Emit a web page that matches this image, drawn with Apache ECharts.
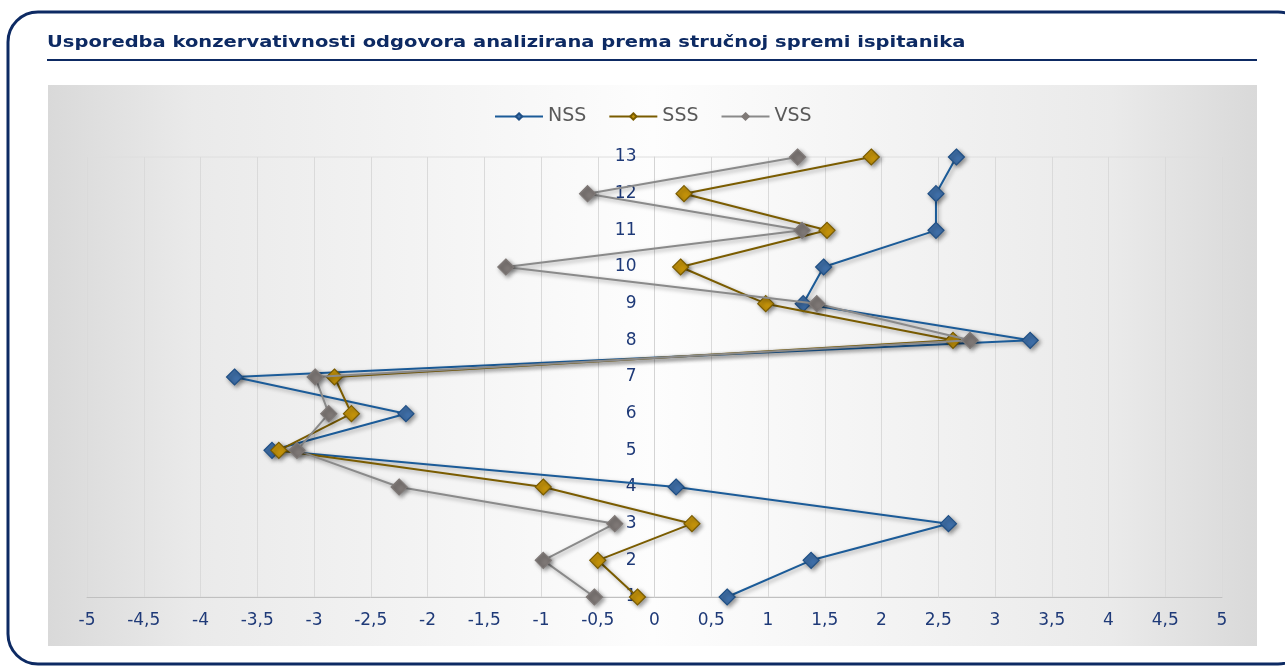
<!DOCTYPE html>
<html>
<head>
<meta charset="utf-8">
<script src="https://cdn.jsdelivr.net/npm/echarts@6/dist/echarts.min.js"></script>
<style>
html,body{margin:0;padding:0;background:#fff;}
#chart{width:1285px;height:666px;}
</style>
</head>
<body>
<div id="chart"></div>
<script>
var titleText = 'Usporedba konzervativnosti odgovora analizirana prema stručnoj spremi ispitanika';
var seriesNames = ['NSS', 'SSS', 'VSS'];
var levels = [1, 2, 3, 4, 5, 6, 7, 8, 9, 10, 11, 12, 13];
var nss = [0.64, 1.38, 2.59, 0.19, -3.37, -2.19, -3.70, 3.31, 1.31, 1.49, 2.48, 2.48, 2.66];
var sss = [-0.15, -0.50, 0.33, -0.98, -3.31, -2.67, -2.82, 2.63, 0.98, 0.23, 1.52, 0.26, 1.91];
var vss = [-0.53, -0.98, -0.35, -2.25, -3.15, -2.87, -2.99, 2.78, 1.43, -1.31, 1.30, -0.59, 1.26];

var lineColors = ['#1b5b98', '#7a5c00', '#8a8a8a'];
var markerFill = ['#3f6fa8', '#c4930a', '#7f7977'];
var markerBorder = ['#1f4f85', '#7a5c00', '#7f7977'];

function pairs(vals) {
  return vals.map(function (v, i) { return [v, levels[i]]; });
}
var allVals = [nss, sss, vss];

var W = 1285, gridLeft = 87, gridRight = 63;
var chart = echarts.init(document.getElementById('chart'), null, {renderer: 'canvas'});
var navy = '#1f3a78';
var fontFam = '"DejaVu Sans", Verdana, sans-serif';

var series = seriesNames.map(function (name, k) {
  return {
    name: name,
    type: 'line',
    data: pairs(allVals[k]),
    symbol: 'diamond',
    symbolSize: 16,
    showSymbol: true,
    z: 3 + k,
    lineStyle: {color: lineColors[k], width: 2,
      shadowColor: 'rgba(0,0,0,0.35)', shadowBlur: 4, shadowOffsetX: 2, shadowOffsetY: 2},
    itemStyle: {color: markerFill[k], borderColor: markerBorder[k], borderWidth: 1.2,
      shadowColor: 'rgba(0,0,0,0.4)', shadowBlur: 4, shadowOffsetX: 2, shadowOffsetY: 2},
    animation: false
  };
});

var option = {
  backgroundColor: '#ffffff',
  animation: false,
  textStyle: {fontFamily: fontFam},
  graphic: [
    {type: 'rect', shape: {x: 8, y: 12, width: 1300, height: 652, r: 30},
      style: {fill: 'none', stroke: '#0d2a63', lineWidth: 3}, z: 0},
    {type: 'rect', shape: {x: 48, y: 85, width: 1209, height: 561},
      style: {fill: new echarts.graphic.LinearGradient(0, 0, 1, 0, [
        {offset: 0, color: '#d9d9d9'},
        {offset: 0.12, color: '#eaeaea'},
        {offset: 0.5, color: '#fdfdfd'},
        {offset: 0.88, color: '#eaeaea'},
        {offset: 1, color: '#d9d9d9'}
      ])}, z: -10, silent: true},
    {type: 'rect', shape: {x: 47, y: 59, width: 1210, height: 2},
      style: {fill: '#0d2a63'}, z: 0},
    {type: 'text', x: 47, y: 36, scaleX: 1.3, style: {text: titleText, fill: '#0d2a63',
      font: 'bold 15px ' + fontFam}, z: 1}
  ],
  legend: {
    top: 102,
    left: 489,
    itemWidth: 48,
    itemHeight: 8,
    itemGap: 22,
    data: seriesNames,
    textStyle: {color: '#595959', fontSize: 19, fontFamily: fontFam}
  },
  grid: {left: gridLeft, right: gridRight, top: 157, bottom: 69, containLabel: false,
    show: true, backgroundColor: 'transparent', borderColor: '#dedede', borderWidth: 1},
  xAxis: {
    type: 'value', min: -5, max: 5, interval: 0.5,
    axisLine: {show: true, onZero: false, lineStyle: {color: '#c0c0c0', width: 1}},
    axisTick: {show: false},
    splitLine: {show: true, lineStyle: {color: '#dadada', width: 1}},
    axisLabel: {color: navy, fontSize: 17, margin: 15, fontFamily: fontFam,
      formatter: function (v) { return String(v).replace('.', ','); }}
  },
  yAxis: {
    type: 'value', min: 1, max: 13, interval: 1,
    position: 'left',
    offset: -(W - gridLeft - gridRight) / 2,
    axisLine: {show: true, onZero: false, lineStyle: {color: '#d4d4d4', width: 1}},
    axisTick: {show: false},
    splitLine: {show: false},
    axisLabel: {color: navy, fontSize: 17, margin: 18, fontFamily: fontFam}
  },
  series: series
};
chart.setOption(option);
</script>
</body>
</html>
